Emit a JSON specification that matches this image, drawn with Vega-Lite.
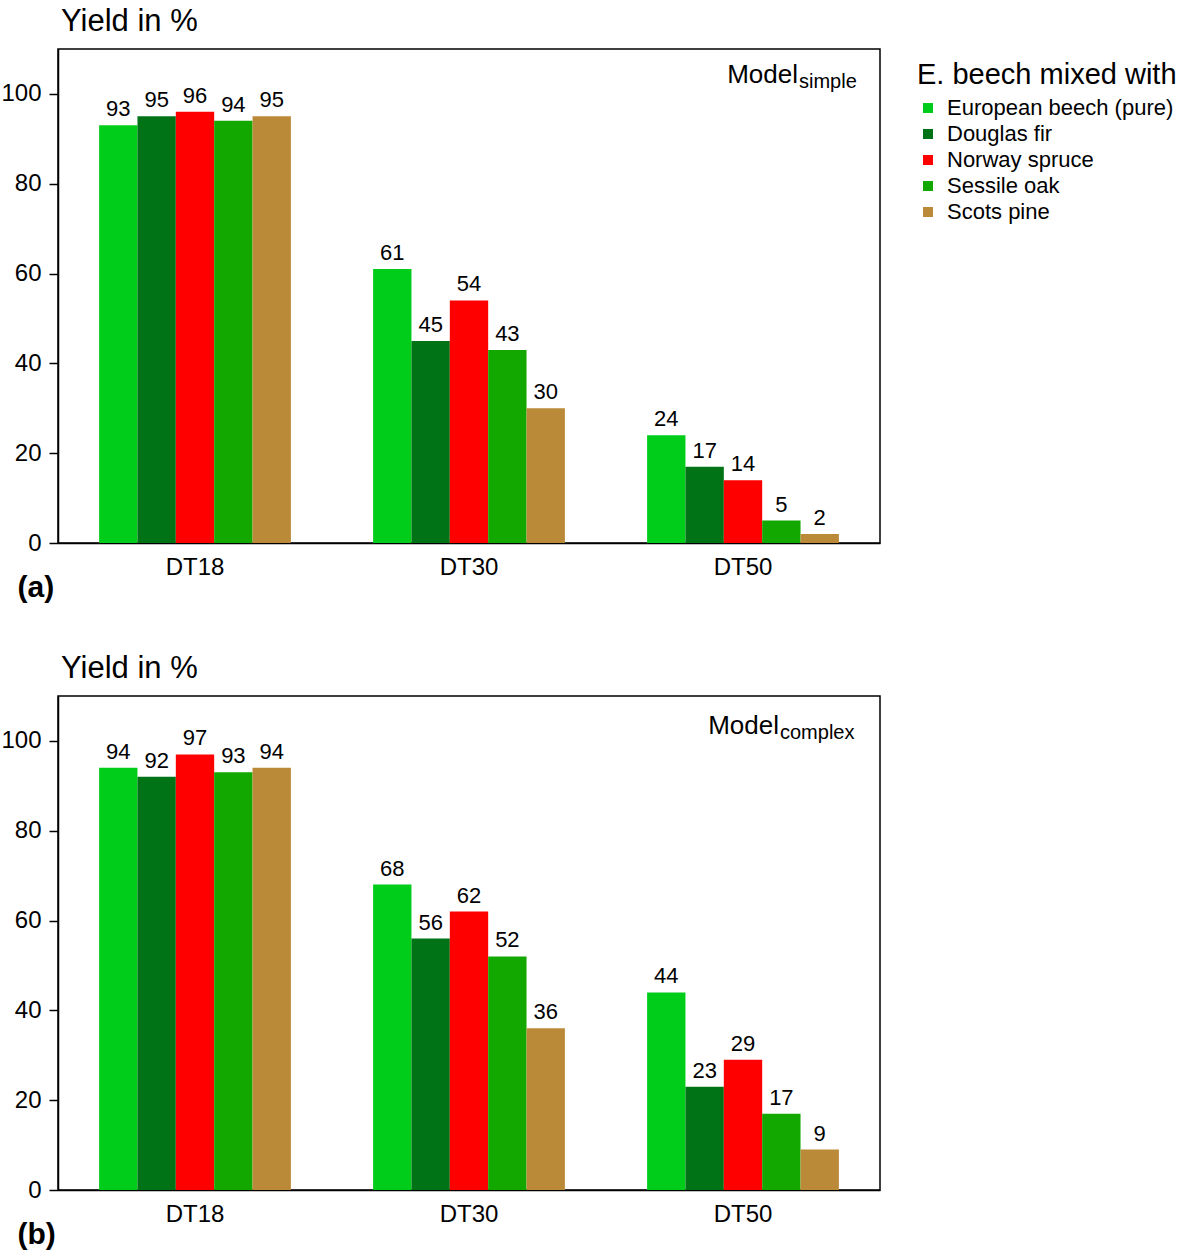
{
  "$schema": "https://vega.github.io/schema/vega-lite/v6.json",
  "padding": {"left": 0, "top": 5, "right": 0, "bottom": 0},
  "background": "white",
  "config": {
    "font": "Liberation Sans",
    "view": {"stroke": "black", "strokeWidth": 1.5},
    "axis": {"grid": false, "domainColor": "black", "domainWidth": 1.5, "tickColor": "black", "tickWidth": 1.5, "labelColor": "black", "labelFont": "Liberation Sans", "titleFont": "Liberation Sans"},
    "title": {"font": "Liberation Sans", "fontSize": 31, "fontWeight": "normal", "anchor": "start", "frame": "group", "color": "black", "dx": 3, "offset": 11},
    "legend": {"titleFont": "Liberation Sans", "labelFont": "Liberation Sans"},
    "concat": {"spacing": 49}
  },
  "datasets": {
    "bars": [
      {"panel": "a", "period": "DT18", "species": "European beech (pure)", "value": 93},
      {"panel": "a", "period": "DT18", "species": "Douglas fir", "value": 95},
      {"panel": "a", "period": "DT18", "species": "Norway spruce", "value": 96},
      {"panel": "a", "period": "DT18", "species": "Sessile oak", "value": 94},
      {"panel": "a", "period": "DT18", "species": "Scots pine", "value": 95},
      {"panel": "a", "period": "DT30", "species": "European beech (pure)", "value": 61},
      {"panel": "a", "period": "DT30", "species": "Douglas fir", "value": 45},
      {"panel": "a", "period": "DT30", "species": "Norway spruce", "value": 54},
      {"panel": "a", "period": "DT30", "species": "Sessile oak", "value": 43},
      {"panel": "a", "period": "DT30", "species": "Scots pine", "value": 30},
      {"panel": "a", "period": "DT50", "species": "European beech (pure)", "value": 24},
      {"panel": "a", "period": "DT50", "species": "Douglas fir", "value": 17},
      {"panel": "a", "period": "DT50", "species": "Norway spruce", "value": 14},
      {"panel": "a", "period": "DT50", "species": "Sessile oak", "value": 5},
      {"panel": "a", "period": "DT50", "species": "Scots pine", "value": 2},
      {"panel": "b", "period": "DT18", "species": "European beech (pure)", "value": 94},
      {"panel": "b", "period": "DT18", "species": "Douglas fir", "value": 92},
      {"panel": "b", "period": "DT18", "species": "Norway spruce", "value": 97},
      {"panel": "b", "period": "DT18", "species": "Sessile oak", "value": 93},
      {"panel": "b", "period": "DT18", "species": "Scots pine", "value": 94},
      {"panel": "b", "period": "DT30", "species": "European beech (pure)", "value": 68},
      {"panel": "b", "period": "DT30", "species": "Douglas fir", "value": 56},
      {"panel": "b", "period": "DT30", "species": "Norway spruce", "value": 62},
      {"panel": "b", "period": "DT30", "species": "Sessile oak", "value": 52},
      {"panel": "b", "period": "DT30", "species": "Scots pine", "value": 36},
      {"panel": "b", "period": "DT50", "species": "European beech (pure)", "value": 44},
      {"panel": "b", "period": "DT50", "species": "Douglas fir", "value": 23},
      {"panel": "b", "period": "DT50", "species": "Norway spruce", "value": 29},
      {"panel": "b", "period": "DT50", "species": "Sessile oak", "value": 17},
      {"panel": "b", "period": "DT50", "species": "Scots pine", "value": 9}
    ],
    "notes": [
      {"panel": "a", "main": "Model", "sub": "simple"},
      {"panel": "b", "main": "Model", "sub": "complex"}
    ]
  },
  "vconcat": [
    {
      "title": "Yield in %",
      "width": 822,
      "height": 494,
      "layer": [
        {
          "data": {"name": "bars"},
          "transform": [{"filter": "datum.panel === 'a'"}],
          "mark": {"type": "bar"},
          "encoding": {
            "x": {"field": "period", "type": "nominal", "scale": {"paddingInner": 0.3, "paddingOuter": 0.15}, "axis": {"title": "(a)", "labelAngle": 0, "labelFontSize": 24, "ticks": false, "labelPadding": 12, "titleFontSize": 30, "titleFontWeight": "bold", "titleAnchor": "start", "titleAlign": "left", "titleX": -41, "titleY": 53, "titleBaseline": "alphabetic"}},
            "xOffset": {"field": "species", "type": "nominal", "scale": {"domain": ["European beech (pure)", "Douglas fir", "Norway spruce", "Sessile oak", "Scots pine"], "paddingInner": 0, "paddingOuter": 0}},
            "y": {"field": "value", "type": "quantitative", "scale": {"domain": [0, 110], "nice": false}, "axis": {"title": null, "values": [0, 20, 40, 60, 80, 100], "labelFontSize": 24, "tickSize": 9, "labelPadding": 8}},
            "color": {"field": "species", "type": "nominal", "scale": {"domain": ["European beech (pure)", "Douglas fir", "Norway spruce", "Sessile oak", "Scots pine"], "range": ["#00CC1A", "#007316", "#FF0000", "#12A800", "#BA8A38"]}, "legend": {"title": "E. beech mixed with", "titleFontSize": 29, "titleFontWeight": "normal", "titleColor": "black", "titleLimit": 400, "labelLimit": 400, "labelFontSize": 22, "labelColor": "black", "symbolType": "square", "symbolSize": 100, "symbolStrokeWidth": 0, "symbolOffset": 0, "labelOffset": 8, "rowPadding": 4, "offset": 24, "padding": 12, "titlePadding": 7}}
          }
        },
        {
          "data": {"name": "bars"},
          "transform": [{"filter": "datum.panel === 'a'"}],
          "mark": {"type": "text", "fontSize": 22, "dy": -9, "baseline": "alphabetic", "color": "black"},
          "encoding": {
            "x": {"field": "period", "type": "nominal"},
            "xOffset": {"field": "species", "type": "nominal"},
            "y": {"field": "value", "type": "quantitative"},
            "text": {"field": "value", "type": "quantitative"}
          }
        },
        {
          "data": {"name": "notes"},
          "transform": [{"filter": "datum.panel === 'a'"}],
          "mark": {"type": "text", "fontSize": 26, "align": "right", "baseline": "alphabetic", "dx": 55, "color": "black"},
          "encoding": {
            "x": {"datum": "DT50", "type": "nominal"},
            "y": {"datum": 102.4, "type": "quantitative"},
            "text": {"field": "main"}
          }
        },
        {
          "data": {"name": "notes"},
          "transform": [{"filter": "datum.panel === 'a'"}],
          "mark": {"type": "text", "fontSize": 20, "align": "left", "baseline": "alphabetic", "dx": 56, "dy": 5, "color": "black"},
          "encoding": {
            "x": {"datum": "DT50", "type": "nominal"},
            "y": {"datum": 102.4, "type": "quantitative"},
            "text": {"field": "sub"}
          }
        }
      ]
    },
    {
      "title": "Yield in %",
      "width": 822,
      "height": 494,
      "layer": [
        {
          "data": {"name": "bars"},
          "transform": [{"filter": "datum.panel === 'b'"}],
          "mark": {"type": "bar"},
          "encoding": {
            "x": {"field": "period", "type": "nominal", "scale": {"paddingInner": 0.3, "paddingOuter": 0.15}, "axis": {"title": "(b)", "labelAngle": 0, "labelFontSize": 24, "ticks": false, "labelPadding": 12, "titleFontSize": 30, "titleFontWeight": "bold", "titleAnchor": "start", "titleAlign": "left", "titleX": -41, "titleY": 53, "titleBaseline": "alphabetic"}},
            "xOffset": {"field": "species", "type": "nominal", "scale": {"domain": ["European beech (pure)", "Douglas fir", "Norway spruce", "Sessile oak", "Scots pine"], "paddingInner": 0, "paddingOuter": 0}},
            "y": {"field": "value", "type": "quantitative", "scale": {"domain": [0, 110], "nice": false}, "axis": {"title": null, "values": [0, 20, 40, 60, 80, 100], "labelFontSize": 24, "tickSize": 9, "labelPadding": 8}},
            "color": {"field": "species", "type": "nominal", "scale": {"domain": ["European beech (pure)", "Douglas fir", "Norway spruce", "Sessile oak", "Scots pine"], "range": ["#00CC1A", "#007316", "#FF0000", "#12A800", "#BA8A38"]}, "legend": null}
          }
        },
        {
          "data": {"name": "bars"},
          "transform": [{"filter": "datum.panel === 'b'"}],
          "mark": {"type": "text", "fontSize": 22, "dy": -9, "baseline": "alphabetic", "color": "black"},
          "encoding": {
            "x": {"field": "period", "type": "nominal"},
            "xOffset": {"field": "species", "type": "nominal"},
            "y": {"field": "value", "type": "quantitative"},
            "text": {"field": "value", "type": "quantitative"}
          }
        },
        {
          "data": {"name": "notes"},
          "transform": [{"filter": "datum.panel === 'b'"}],
          "mark": {"type": "text", "fontSize": 26, "align": "right", "baseline": "alphabetic", "dx": 36, "color": "black"},
          "encoding": {
            "x": {"datum": "DT50", "type": "nominal"},
            "y": {"datum": 101.5, "type": "quantitative"},
            "text": {"field": "main"}
          }
        },
        {
          "data": {"name": "notes"},
          "transform": [{"filter": "datum.panel === 'b'"}],
          "mark": {"type": "text", "fontSize": 20, "align": "left", "baseline": "alphabetic", "dx": 37, "dy": 5, "color": "black"},
          "encoding": {
            "x": {"datum": "DT50", "type": "nominal"},
            "y": {"datum": 101.5, "type": "quantitative"},
            "text": {"field": "sub"}
          }
        }
      ]
    }
  ]
}
